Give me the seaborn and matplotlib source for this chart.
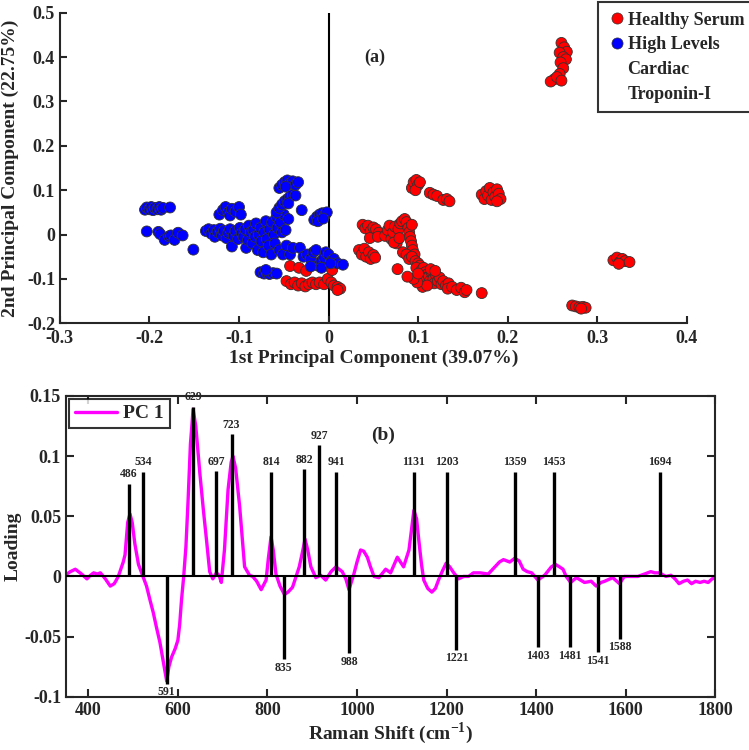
import numpy as np
import pandas as pd
import matplotlib
matplotlib.use("Agg")
import matplotlib.pyplot as plt
from matplotlib.lines import Line2D
import seaborn as sns

# ---- (a) PCA scores ----
healthy_scores = [
    (-0.043, -0.071), (-0.033, -0.075), (-0.025, -0.082), (-0.047, -0.105), (-0.042, -0.112),
    (-0.038, -0.108), (-0.034, -0.115), (-0.030, -0.110), (-0.026, -0.117), (-0.022, -0.112),
    (-0.018, -0.108), (-0.014, -0.112), (-0.010, -0.108), (-0.005, -0.112), (-0.001, -0.100),
    (0.003, -0.108), (0.006, -0.115), (0.010, -0.118), (0.013, -0.122), (0.010, -0.125),
    (-0.012, -0.065), (-0.002, -0.070), (0.004, -0.080),
    (0.093, 0.105), (0.095, 0.118), (0.098, 0.123), (0.100, 0.112), (0.097, 0.100), (0.102, 0.118),
    (0.113, 0.094), (0.117, 0.090), (0.121, 0.087), (0.128, 0.078), (0.132, 0.080), (0.135, 0.075),
    (0.171, 0.090), (0.174, 0.080), (0.176, 0.098), (0.178, 0.088), (0.180, 0.105), (0.182, 0.078),
    (0.184, 0.095), (0.186, 0.085), (0.188, 0.102), (0.190, 0.092), (0.192, 0.080), (0.188, 0.075),
    (0.038, 0.022), (0.041, 0.014), (0.044, 0.020), (0.047, 0.008), (0.050, 0.016), (0.053, 0.012),
    (0.056, 0.004), (0.046, -0.008), (0.055, -0.005),
    (0.063, -0.003), (0.066, 0.010), (0.068, 0.020), (0.070, -0.010), (0.072, 0.005), (0.074, 0.018),
    (0.076, -0.020), (0.078, 0.012), (0.080, 0.025), (0.082, 0.030), (0.085, 0.035), (0.087, 0.028),
    (0.073, -0.018), (0.079, -0.008),
    (0.034, -0.035), (0.037, -0.045), (0.040, -0.032), (0.042, -0.050), (0.045, -0.040),
    (0.047, -0.055), (0.050, -0.046), (0.052, -0.052),
    (0.089, 0.015), (0.090, 0.005), (0.091, -0.005), (0.092, -0.015), (0.093, -0.025),
    (0.094, -0.035), (0.096, -0.045), (0.093, 0.022),
    (0.083, -0.040), (0.087, -0.045), (0.090, -0.055), (0.093, -0.050), (0.097, -0.060),
    (0.100, -0.065), (0.102, -0.070), (0.098, -0.075), (0.104, -0.080), (0.106, -0.075),
    (0.108, -0.085), (0.110, -0.090), (0.103, -0.095), (0.107, -0.100), (0.112, -0.095),
    (0.115, -0.085), (0.113, -0.105), (0.117, -0.100), (0.120, -0.092), (0.118, -0.110),
    (0.122, -0.105), (0.124, -0.097), (0.126, -0.112), (0.128, -0.105), (0.131, -0.115),
    (0.134, -0.110), (0.133, -0.122), (0.138, -0.118), (0.143, -0.125), (0.148, -0.120),
    (0.152, -0.130), (0.154, -0.125), (0.105, -0.118), (0.110, -0.115), (0.099, -0.108),
    (0.095, -0.100), (0.100, -0.088), (0.114, -0.078), (0.119, -0.082),
    (0.077, -0.078), (0.088, -0.095), (0.171, -0.132),
    (0.318, -0.058), (0.322, -0.052), (0.325, -0.062), (0.328, -0.055), (0.331, -0.060),
    (0.336, -0.062), (0.324, -0.066),
    (0.272, -0.160), (0.276, -0.162), (0.280, -0.164), (0.284, -0.163), (0.287, -0.165), (0.282, -0.167),
    (0.260, 0.432), (0.263, 0.422), (0.266, 0.412), (0.258, 0.410), (0.262, 0.400), (0.265, 0.395),
    (0.259, 0.388), (0.262, 0.375), (0.258, 0.362), (0.252, 0.350), (0.248, 0.345), (0.255, 0.355),
    (0.260, 0.347),
]

troponin_scores = [
    (-0.205, 0.056), (-0.203, 0.061), (-0.200, 0.057), (-0.198, 0.062), (-0.196, 0.055),
    (-0.194, 0.060), (-0.191, 0.057), (-0.189, 0.062), (-0.187, 0.056), (-0.185, 0.060), (-0.177, 0.061),
    (-0.203, 0.007), (-0.190, 0.006), (-0.188, 0.001), (-0.183, -0.012), (-0.178, -0.004),
    (-0.176, -0.002), (-0.172, -0.012), (-0.168, 0.004), (-0.163, -0.002), (-0.151, -0.034),
    (-0.122, 0.045), (-0.118, 0.055), (-0.115, 0.062), (-0.112, 0.050), (-0.110, 0.043),
    (-0.108, 0.058), (-0.104, 0.052), (-0.100, 0.062), (-0.098, 0.045),
    (-0.137, 0.008), (-0.134, 0.012), (-0.131, 0.002), (-0.128, 0.010), (-0.127, -0.005),
    (-0.124, 0.006), (-0.121, 0.013), (-0.119, -0.002), (-0.117, 0.008), (-0.114, -0.008),
    (-0.112, 0.004), (-0.110, 0.012), (-0.108, -0.027), (-0.106, -0.003), (-0.104, 0.008),
    (-0.101, -0.010), (-0.099, 0.015), (-0.097, 0.003), (-0.095, -0.005), (-0.093, 0.012),
    (-0.092, -0.030), (-0.090, -0.012), (-0.089, 0.020), (-0.087, 0.005), (-0.085, -0.020),
    (-0.084, 0.010), (-0.082, -0.005), (-0.081, 0.025), (-0.079, -0.035), (-0.078, 0.000),
    (-0.076, 0.015), (-0.075, -0.015), (-0.073, -0.040), (-0.072, 0.005), (-0.070, 0.030),
    (-0.069, -0.010), (-0.067, -0.025), (-0.066, 0.012), (-0.064, -0.045), (-0.063, 0.028),
    (-0.061, 0.000), (-0.060, -0.020), (-0.058, 0.040), (-0.057, 0.015), (-0.055, -0.035),
    (-0.054, 0.028), (-0.052, 0.005), (-0.051, -0.045), (-0.050, 0.045), (-0.048, 0.010),
    (-0.047, -0.025), (-0.045, 0.035), (-0.043, -0.045), (-0.040, -0.030),
    (-0.058, 0.050), (-0.055, 0.060), (-0.052, 0.068), (-0.049, 0.075), (-0.046, 0.080),
    (-0.043, 0.085), (-0.040, 0.090), (-0.037, 0.088), (-0.045, 0.070), (-0.030, 0.055),
    (-0.055, 0.105), (-0.052, 0.112), (-0.049, 0.118), (-0.046, 0.122), (-0.043, 0.115),
    (-0.040, 0.120), (-0.037, 0.112), (-0.034, 0.118), (-0.048, 0.108),
    (-0.016, 0.033), (-0.013, 0.040), (-0.010, 0.045), (-0.007, 0.048), (-0.004, 0.044),
    (-0.002, 0.050), (-0.012, 0.030), (-0.006, 0.036),
    (-0.076, -0.085), (-0.072, -0.088), (-0.069, -0.086), (-0.066, -0.089), (-0.062, -0.087),
    (-0.058, -0.088), (-0.070, -0.080),
    (-0.032, -0.030), (-0.028, -0.050), (-0.024, -0.045), (-0.020, -0.055), (-0.017, -0.040),
    (-0.014, -0.035), (-0.012, -0.070), (-0.008, -0.060), (-0.005, -0.052), (-0.003, -0.040),
    (0.000, -0.045), (0.003, -0.060), (0.006, -0.055), (0.010, -0.065), (0.016, -0.068),
    (-0.020, -0.072), (-0.008, -0.075), (0.002, -0.065),
]

group_names = ["Healthy Serum", "High Levels\nCardiac\nTroponin-I"]

# ---- (b) PC1 loading ----
raman_shift = [352, 360, 371, 385, 397, 405, 412, 420, 427, 438, 449, 458, 467, 478, 482, 488, 493,
               498, 504, 512, 521, 530, 538, 545, 552, 560, 567, 575, 580, 586, 594, 600, 604, 608,
               613, 618, 623, 628, 634, 640, 649, 657, 664, 671, 678, 686, 692, 697, 704, 712, 719,
               723, 729, 738, 749, 760, 767, 776, 786, 797, 802, 808, 813, 819, 828, 838, 846, 856,
               864, 871, 878, 884, 890, 897, 908, 919, 930, 942, 953, 967, 975, 982, 993, 1000, 1008,
               1015, 1023, 1030, 1038, 1049, 1064, 1075, 1090, 1104, 1116, 1122, 1127, 1133, 1138,
               1144, 1149, 1158, 1167, 1175, 1182, 1190, 1199, 1207, 1216, 1227, 1238, 1249, 1260,
               1275, 1293, 1308, 1318, 1327, 1341, 1352, 1362, 1371, 1380, 1390, 1404, 1419, 1434,
               1443, 1452, 1460, 1467, 1477, 1490, 1508, 1523, 1534, 1545, 1553, 1571, 1586, 1597,
               1612, 1627, 1642, 1656, 1665, 1675, 1690, 1701, 1710, 1719, 1729, 1738, 1747, 1756,
               1766, 1775, 1784, 1793, 1800]
pc1_loading = [0.002, 0.004, 0.006, 0.002, -0.002, 0.001, 0.003, 0.002, 0.003, -0.002, -0.008,
               -0.006, 0.000, 0.012, 0.018, 0.045, 0.052, 0.045, 0.027, 0.010, 0.001, -0.008,
               -0.020, -0.030, -0.042, -0.055, -0.070, -0.087, -0.075, -0.067, -0.060, -0.053,
               -0.040, -0.020, 0.000, 0.025, 0.065, 0.110, 0.139, 0.125, 0.086, 0.055, 0.030,
               0.004, -0.002, 0.003, 0.001, -0.005, 0.022, 0.072, 0.095, 0.100, 0.090, 0.058,
               0.008, 0.001, 0.000, -0.004, -0.011, -0.003, 0.015, 0.033, 0.022, 0.002, -0.008,
               -0.015, -0.013, -0.009, 0.000, 0.008, 0.020, 0.031, 0.022, 0.008, -0.001, 0.001,
               -0.003, 0.004, 0.008, 0.004, -0.002, -0.011, 0.002, 0.012, 0.022, 0.021, 0.016,
               0.008, 0.000, -0.001, 0.006, 0.003, 0.016, 0.008, 0.022, 0.040, 0.055, 0.048,
               0.030, 0.010, -0.003, -0.010, -0.013, -0.010, -0.003, 0.004, 0.011, 0.008, 0.003,
               -0.002, 0.000, 0.000, 0.003, 0.003, 0.002, 0.008, 0.012, 0.014, 0.012, 0.015,
               0.013, 0.006, 0.004, 0.003, -0.003, 0.001, 0.008, 0.010, 0.008, 0.006, 0.000,
               -0.005, -0.001, -0.005, -0.004, -0.008, -0.005, -0.004, -0.001, -0.006, 0.000,
               0.000, 0.000, 0.002, 0.004, 0.003, 0.003, 0.000, 0.001, -0.002, -0.006, -0.004,
               -0.003, -0.006, -0.004, -0.005, -0.004, -0.005, -0.002, -0.001]

peak_shift = [491, 522, 634, 686, 720, 808, 882, 915, 953, 1127, 1200, 1353, 1440, 1676,
              575, 836, 982, 1222, 1404, 1476, 1538, 1587]
peak_height = [0.077, 0.087, 0.141, 0.0875, 0.118, 0.087, 0.089, 0.109, 0.087, 0.087, 0.087,
               0.087, 0.087, 0.087,
               -0.089, -0.069, -0.064, -0.061, -0.059, -0.059, -0.063, -0.052]
peak_labels = ["486", "534", "629", "697", "723", "814", "882", "927", "941", "1131", "1203",
               "1359", "1453", "1694",
               "591", "835", "988", "1221", "1403", "1481", "1541", "1588"]

sns.set_style("ticks")
plt.rcParams["font.family"] = ["Liberation Serif", "DejaVu Serif"]
plt.rcParams["font.weight"] = "bold"
plt.rcParams["axes.labelweight"] = "bold"
plt.rcParams["mathtext.fontset"] = "custom"
plt.rcParams["mathtext.rm"] = "Liberation Serif:bold"
plt.rcParams["mathtext.bf"] = "Liberation Serif:bold"
plt.rcParams["axes.unicode_minus"] = False
plt.rcParams["xtick.direction"] = "in"
plt.rcParams["ytick.direction"] = "in"

fig = plt.figure(figsize=(7.49, 7.5), dpi=100)
ax1 = fig.add_axes([0.080, 0.569, 0.837, 0.414])
ax2 = fig.add_axes([0.088, 0.071, 0.867, 0.401])

# ---------- (a) ----------
h = np.array(healthy_scores)
t = np.array(troponin_scores)
scores = pd.DataFrame({
    "pc1": np.concatenate([h[:, 0], t[:, 0]]),
    "pc2": np.concatenate([h[:, 1], t[:, 1]]),
    "group": [group_names[0]] * len(h) + [group_names[1]] * len(t),
})
sns.scatterplot(data=scores, x="pc1", y="pc2", hue="group", hue_order=group_names,
                palette=["#ff0000", "#0000ff"], s=62, edgecolor="#333333", linewidth=0.6,
                ax=ax1, legend=False)
ax1.axvline(0, color="black", lw=1.5, zorder=0)
ax1.set_xlim(-0.3, 0.4)
ax1.set_ylim(-0.2, 0.5)
ax1.set_xticks(np.arange(-0.3, 0.41, 0.1))
ax1.set_xticklabels(["-0.3", "-0.2", "-0.1", "0", "0.1", "0.2", "0.3", "0.4"])
ax1.set_yticks(np.arange(-0.2, 0.51, 0.1))
ax1.set_yticklabels(["-0.2", "-0.1", "0", "0.1", "0.2", "0.3", "0.4", "0.5"])
ax1.tick_params(labelsize=13, width=1.5, length=5)
ax1.tick_params(axis="x", pad=5)
for lab in ax1.get_xticklabels() + ax1.get_yticklabels():
    lab.set_fontweight("bold")
sns.despine(ax=ax1)
for sp in ["left", "bottom"]:
    ax1.spines[sp].set_linewidth(1.5)
ax1.set_xlabel("1st Principal Component (39.07%)", fontsize=14, labelpad=2)
ax1.set_ylabel("2nd Principal Component (22.75%)", fontsize=14, labelpad=6)
ax1.text(0.052, 0.40, "(a)", fontsize=13, fontweight="bold", ha="center", va="center")

# legend: marker next to the first line of each label
colors = ["#ff0000", "#0000ff"]
handles, labels = [], []
for name, col in zip(group_names, colors):
    for i, part in enumerate(name.split("\n")):
        if i == 0:
            handles.append(Line2D([], [], marker="o", linestyle="none", markersize=8,
                                  markerfacecolor=col, markeredgecolor="#333333",
                                  markeredgewidth=0.5))
        else:
            handles.append(Line2D([], [], linestyle="none"))
        labels.append(part)
leg = ax1.legend(handles, labels, loc="upper left", bbox_to_anchor=(0.858, 1.035),
                 fontsize=13, frameon=True, fancybox=False, edgecolor="black",
                 handletextpad=0.1, borderpad=0.55, labelspacing=0.42,
                 handlelength=1.0, borderaxespad=0)
leg.get_frame().set_linewidth(1.5)

# ---------- (b) ----------
loading = pd.DataFrame({"shift": raman_shift, "loading": pc1_loading})
sns.lineplot(data=loading, x="shift", y="loading", color="#ff00ff", lw=2.4, ax=ax2,
             label="PC 1", zorder=2)
ax2.vlines(peak_shift, 0, peak_height, color="black", lw=2.4, zorder=3)
ax2.axhline(0, color="black", lw=1.5, zorder=3)
for xs, ys, lab in zip(peak_shift, peak_height, peak_labels):
    if ys > 0:
        ax2.text(xs, ys + 0.003, lab, fontsize=8.5, fontweight="bold", ha="center", va="bottom")
    else:
        ax2.text(xs, ys - 0.002, lab, fontsize=8.5, fontweight="bold", ha="center", va="top")
ax2.set_xlim(350, 1800)
ax2.set_ylim(-0.1, 0.15)
ax2.set_xticks(range(400, 1801, 200))
ax2.set_yticks([-0.1, -0.05, 0, 0.05, 0.1, 0.15])
ax2.set_yticklabels(["-0.1", "-0.05", "0", "0.05", "0.1", "0.15"])
ax2.tick_params(labelsize=13, width=1.5, length=6, top=True, right=True)
for lab in ax2.get_xticklabels() + ax2.get_yticklabels():
    lab.set_fontweight("bold")
for sp in ax2.spines.values():
    sp.set_linewidth(1.5)
ax2.text(1058, 0.117, "(b)", fontsize=14, fontweight="bold", ha="center", va="center")
ax2.set_xlabel("Raman Shift (cm$^{-1}$)", fontsize=14, labelpad=1)
ax2.set_ylabel("Loading", fontsize=14, labelpad=2)
leg2 = ax2.legend(loc="upper left", fontsize=14, frameon=True, fancybox=False,
                  edgecolor="black", handlelength=2.2, handletextpad=0.3, borderpad=0.3,
                  borderaxespad=0.15)
leg2.get_frame().set_linewidth(1.5)

fig.savefig("out.png", dpi=100)
